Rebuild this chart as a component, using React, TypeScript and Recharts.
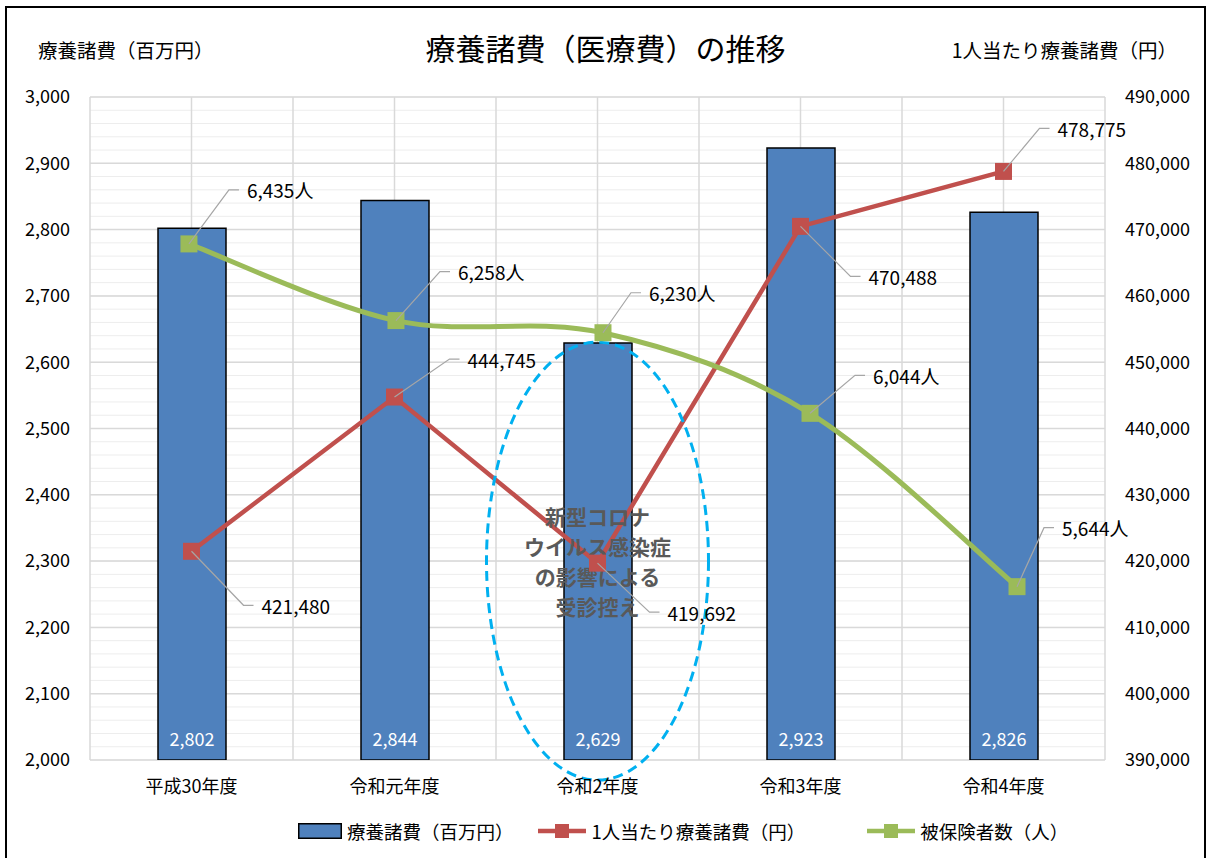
import React from "react"
import {
  Bar,
  CartesianGrid,
  ComposedChart,
  LabelList,
  Legend,
  Line,
  ReferenceDot,
  XAxis,
  YAxis,
} from "recharts"

// 年度ごとの値
const categories = ["平成30年度", "令和元年度", "令和2年度", "令和3年度", "令和4年度"]
const medicalCost = [2802, 2844, 2629, 2923, 2826] // 療養諸費（百万円）
const costPerPerson = [421480, 444745, 419692, 470488, 478775] // 1人当たり（円）
const insuredCount = [6435, 6258, 6230, 6044, 5644] // 被保険者数（人）

const leftTicks = [2000, 2100, 2200, 2300, 2400, 2500, 2600, 2700, 2800, 2900, 3000]
const rightTicks = [390000, 400000, 410000, 420000, 430000, 440000, 450000, 460000, 470000, 480000, 490000]

const noteLines = ["新型コロナ", "ウイルス感染症", "の影響による", "受診控え"]
const noteAnchor = { x: "令和2年度", y: 2300 }

// hidden axes used by the 被保険者数 series (its own scale in the original)
const insuredDomain = [5244, 6774]
const insuredXDomain = [-0.478, 4.425]

const data = categories.map((name, i) => ({
  name,
  idx: i,
  cost: medicalCost[i],
  perPerson: costPerPerson[i],
  insured: insuredCount[i],
}))

// label text offsets from the marker (px)
const perPersonLabelPos = [[70, 54], [73, -38], [70, 49], [68, 50], [54, -43]]
const insuredLabelPos = [[58, -54], [62, -49], [46, -40], [63, -38], [45, -59]]

const BLUE = "#4f81bd"
const RED = "#c0504d"
const GREEN = "#9bbb59"
const FONT = "'Noto Sans CJK JP', 'Noto Sans', sans-serif"

// Excel-like smoothed line (Catmull-Rom through the points)
function excelSmooth(context: any) {
  let pts: number[][] = []
  return {
    areaStart() {},
    areaEnd() {},
    lineStart() {
      pts = []
    },
    point(x: number, y: number) {
      pts.push([+x, +y])
    },
    lineEnd() {
      if (!pts.length) return
      context.moveTo(pts[0][0], pts[0][1])
      for (let i = 0; i < pts.length - 1; i++) {
        const p0 = pts[i - 1] || pts[i]
        const p1 = pts[i]
        const p2 = pts[i + 1]
        const p3 = pts[i + 2] || p2
        context.bezierCurveTo(
          p1[0] + (p2[0] - p0[0]) / 6,
          p1[1] + (p2[1] - p0[1]) / 6,
          p2[0] - (p3[0] - p1[0]) / 6,
          p2[1] - (p3[1] - p1[1]) / 6,
          p2[0],
          p2[1]
        )
      }
    },
  }
}

const squareDot = (color: string, size: number) => (p: any) => (
  <rect
    key={`dot-${p.index}`}
    x={p.cx - size / 2}
    y={p.cy - size / 2}
    width={size}
    height={size}
    fill={color}
  />
)

const leaderLabel = (pos: number[][], suffix: string) => (p: any) => {
  const { x, y, value, index } = p
  if (x == null || y == null) return null
  const [dx, dy] = pos[index]
  const tx = x + dx
  const ty = y + dy
  return (
    <g>
      <polyline
        points={`${x},${y} ${tx - 18},${ty} ${tx - 8},${ty}`}
        fill="none"
        stroke="#a6a6a6"
        strokeWidth={1.2}
      />
      <text x={tx} y={ty} dominantBaseline="central" fontSize={19} fill="#000">
        {Number(value).toLocaleString("ja-JP")}
        {suffix}
      </text>
    </g>
  )
}

const barValue = (p: any) => {
  const vb = p.viewBox || p
  const x = p.x ?? vb.x
  const y = p.y ?? vb.y
  const w = p.width ?? vb.width
  const h = p.height ?? vb.height
  return (
    <text
      x={x + w / 2}
      y={y + h - 22}
      textAnchor="middle"
      dominantBaseline="central"
      fontSize={18}
      fill="#fff"
    >
      {Number(p.value).toLocaleString("ja-JP")}
    </text>
  )
}

const NoteShape = (p: any) => {
  const { cx, cy } = p
  if (cx == null || cy == null) return null
  return (
    <g>
      <ellipse
        cx={cx}
        cy={cy}
        rx={111}
        ry={219}
        fill="none"
        stroke="#00b0f0"
        strokeWidth={3}
        strokeDasharray="10 6"
      />
      {noteLines.map((t, i) => (
        <text
          key={t}
          x={cx}
          y={cy - 45 + i * 30}
          textAnchor="middle"
          dominantBaseline="central"
          fontSize={21}
          fontWeight="bold"
          fill="#595959"
        >
          {t}
        </text>
      ))}
    </g>
  )
}

function LegendContent() {
  const text = { fontSize: 18.5, color: "#000", whiteSpace: "nowrap" as const }
  const lineIcon = (color: string) => (
    <svg width={48} height={18}>
      <line x1={0} y1={9} x2={48} y2={9} stroke={color} strokeWidth={4.5} />
      <rect x={17} y={2} width={14} height={14} fill={color} />
    </svg>
  )
  return (
    <div style={{ display: "flex", alignItems: "center", height: 24, paddingLeft: 291 }}>
      <svg width={44} height={16} style={{ marginRight: 5 }}>
        <rect x={0.75} y={0.75} width={42.5} height={14.5} fill={BLUE} stroke="#000" strokeWidth={1.5} />
      </svg>
      <span style={{ ...text, marginRight: 24 }}>療養諸費（百万円）</span>
      <span style={{ marginRight: 6, display: "flex" }}>{lineIcon(RED)}</span>
      <span style={{ ...text, marginRight: 62 }}>1人当たり療養諸費（円）</span>
      <span style={{ marginRight: 5, display: "flex" }}>{lineIcon(GREEN)}</span>
      <span style={text}>被保険者数（人）</span>
    </div>
  )
}

export default function App() {
  return (
    <div
      style={{
        position: "fixed",
        left: 5,
        top: 6,
        width: 1197,
        height: 860,
        border: "2px solid #000",
        background: "#fff",
        fontFamily: FONT,
      }}
    >
      <div
        style={{
          position: "absolute",
          left: 0,
          top: 24,
          width: 1197,
          textAlign: "center",
          fontSize: 30,
          lineHeight: "30px",
          color: "#000",
        }}
      >
        療養諸費（医療費）の推移
      </div>
      <div style={{ position: "absolute", left: 31, top: 32, fontSize: 19.5, lineHeight: "20px" }}>
        療養諸費（百万円）
      </div>
      <div style={{ position: "absolute", right: 27, top: 32, fontSize: 19.5, lineHeight: "20px" }}>
        1人当たり療養諸費（円）
      </div>

      <ComposedChart
        width={1197}
        height={850}
        data={data}
        margin={{ top: 89, right: 10, bottom: 58, left: 13 }}
      >
        {/* minor horizontal lines */}
        <CartesianGrid
          xAxisId="cat"
          yAxisId="left"
          stroke="#ededed"
          strokeWidth={1}
          vertical={false}
          horizontalCoordinatesGenerator={({ offset }: any) =>
            Array.from({ length: 51 }, (_, i) => offset.top + (i * offset.height) / 50)
          }
        />
        {/* major horizontal + vertical lines */}
        <CartesianGrid
          xAxisId="cat"
          yAxisId="left"
          stroke="#d9d9d9"
          strokeWidth={1.5}
          horizontalCoordinatesGenerator={({ offset }: any) =>
            Array.from({ length: 11 }, (_, i) => offset.top + (i * offset.height) / 10)
          }
          verticalCoordinatesGenerator={({ offset }: any) =>
            Array.from({ length: 11 }, (_, i) => offset.left + (i * offset.width) / 10)
          }
        />
        <XAxis
          xAxisId="cat"
          dataKey="name"
          interval={0}
          tickLine={false}
          axisLine={false}
          tickSize={0}
          tickMargin={20}
          height={40}
          tick={{ fontSize: 18, fill: "#000" }}
        />
        <XAxis
          xAxisId="g"
          dataKey="idx"
          type="number"
          domain={insuredXDomain}
          allowDataOverflow
          height={0}
          hide
        />
        <YAxis
          yAxisId="left"
          domain={[leftTicks[0], leftTicks[leftTicks.length - 1]]}
          ticks={leftTicks}
          allowDataOverflow
          width={70}
          tickLine={false}
          axisLine={false}
          tickSize={0}
          tickMargin={20}
          tick={{ fontSize: 18, fill: "#000" }}
          tickFormatter={(v) => Number(v).toLocaleString("ja-JP")}
        />
        <YAxis
          yAxisId="right"
          orientation="right"
          domain={[rightTicks[0], rightTicks[rightTicks.length - 1]]}
          ticks={rightTicks}
          allowDataOverflow
          width={89}
          tickLine={false}
          axisLine={false}
          tickSize={0}
          tickMargin={20}
          tick={{ fontSize: 18, fill: "#000", textAnchor: "start" }}
          tickFormatter={(v) => Number(v).toLocaleString("ja-JP")}
        />
        <YAxis yAxisId="g" domain={insuredDomain} allowDataOverflow width={0} hide />

        <Bar
          xAxisId="cat"
          yAxisId="left"
          dataKey="cost"
          name="療養諸費（百万円）"
          fill={BLUE}
          stroke="#000"
          strokeWidth={1.5}
          barSize={68}
          isAnimationActive={false}
        >
          <LabelList dataKey="cost" content={barValue} />
        </Bar>
        <Line
          xAxisId="cat"
          yAxisId="right"
          dataKey="perPerson"
          name="1人当たり療養諸費（円）"
          stroke={RED}
          strokeWidth={4.5}
          dot={squareDot(RED, 17)}
          activeDot={false}
          isAnimationActive={false}
        >
          <LabelList dataKey="perPerson" content={leaderLabel(perPersonLabelPos, "")} />
        </Line>
        <Line
          xAxisId="g"
          yAxisId="g"
          dataKey="insured"
          name="被保険者数（人）"
          type={excelSmooth as any}
          stroke={GREEN}
          strokeWidth={5}
          dot={squareDot(GREEN, 17)}
          activeDot={false}
          isAnimationActive={false}
        >
          <LabelList dataKey="insured" content={leaderLabel(insuredLabelPos, "人")} />
        </Line>
        <ReferenceDot
          xAxisId="cat"
          yAxisId="left"
          x={noteAnchor.x}
          y={noteAnchor.y}
          ifOverflow="visible"
          shape={NoteShape}
        />
        <Legend
          verticalAlign="middle"
          align="center"
          layout="horizontal"
          wrapperStyle={{ top: 811, left: 0, width: 1197 }}
          content={() => <LegendContent />}
        />
      </ComposedChart>
    </div>
  )
}
